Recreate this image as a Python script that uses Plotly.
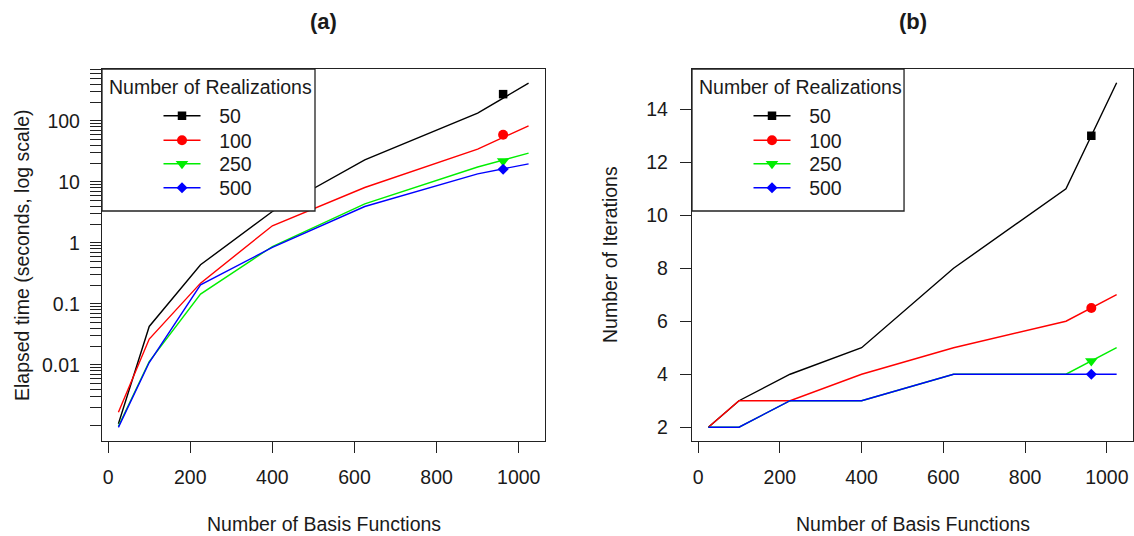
import plotly.graph_objects as go

# ---------------- data ----------------
basis = [25, 100, 225, 400, 625, 900, 1024]
series_names = ["50", "100", "250", "500"]

time_50 = [0.00108, 0.0425, 0.436, 3.26, 22.9, 134, 415]
time_100 = [0.00166, 0.0264, 0.218, 1.9, 8.07, 34.4, 83]
time_250 = [0.00098, 0.0113, 0.144, 0.87, 4.36, 17.5, 29.5]
time_500 = [0.00094, 0.0109, 0.205, 0.84, 3.94, 13.5, 19.7]

iter_50 = [2, 3, 4, 5, 8, 11, 15]
iter_100 = [2, 3, 3, 4, 5, 6, 7]
iter_250 = [2, 2, 3, 3, 4, 4, 5]
iter_500 = [2, 2, 3, 3, 4, 4, 4]

marker_basis = 962
time_marker = [274, 59, 22, 16.1]
iter_marker = [13, 6.5, 4.5, 4]

x_ticks = [0, 200, 400, 600, 800, 1000]
log_major = [0.01, 0.1, 1, 10, 100]
log_major_labels = ["0.01", "0.1", "1", "10", "100"]
iter_ticks = [2, 4, 6, 8, 10, 12, 14]
legend_title = "Number of Realizations"

# ---------------- style ----------------
colors = ["#000000", "#FF0000", "#00EE00", "#0000FF"]
symbols = ["square", "circle", "triangle-down", "diamond"]
msizes = [8.5, 10, 11, 8.5]
FONT = "Liberation Sans, Arial, Helvetica, sans-serif"
TXT = "#1a1a1a"
FS = 19.5

# minor log ticks (1..9 x 10^k), labels only at the decades 0.01..100
log_tickvals = []
log_ticktext = []
for k in range(-3, 3):
    for m in range(1, 10):
        v = m * 10 ** k
        if v > 700:
            continue
        v = float(f"{v:.6g}")
        log_tickvals.append(v)
        lab = ""
        for mv, ml in zip(log_major, log_major_labels):
            if abs(v - mv) / mv < 1e-9:
                lab = ml
        log_ticktext.append(lab)

time_series = [time_50, time_100, time_250, time_500]
iter_series = [iter_50, iter_100, iter_250, iter_500]

W, H = 1134, 536
ML, MR, MT, MB = 102, 1, 69, 95
pw = W - ML - MR
ph = H - MT - MB
dom_a = [0, (545 - ML) / pw]
dom_b = [(692 - ML) / pw, 1]


def px_y(ypix):
    return 1 - (ypix - MT) / ph


def px_x(xpix):
    return (xpix - ML) / pw


def legend_name(p, i):
    n = p * 4 + i + 1
    return "legend" if n == 1 else f"legend{n}"


fig = go.Figure()

panels = [
    (time_series, time_marker, "x", "y", 0),
    (iter_series, iter_marker, "x2", "y2", 590),
]
for p, (series, markers, xa, ya, dx) in enumerate(panels):
    for i, name in enumerate(series_names):
        fig.add_trace(go.Scatter(
            x=basis, y=series[i], mode="lines",
            line=dict(color=colors[i], width=1.4),
            xaxis=xa, yaxis=ya, showlegend=False, hoverinfo="skip",
        ))
    for i, name in enumerate(series_names):
        fig.add_trace(go.Scatter(
            x=[marker_basis], y=[markers[i]], mode="lines+markers",
            name="\u2002\u2009" + name,
            line=dict(color=colors[i], width=1.4),
            marker=dict(color=colors[i], symbol=symbols[i], size=msizes[i]),
            xaxis=xa, yaxis=ya, legend=legend_name(p, i), showlegend=True,
        ))

axis_common = dict(
    showline=True, mirror=True, linecolor="#222", linewidth=1.3,
    showgrid=False, zeroline=False, ticks="outside", ticklen=11,
    tickwidth=1.1, tickcolor="#222",
    tickfont=dict(family=FONT, size=FS, color=TXT),
)

fig.update_layout(
    width=W, height=H,
    margin=dict(l=ML, r=MR, t=MT, b=MB),
    paper_bgcolor="white", plot_bgcolor="white",
    font=dict(family=FONT, size=FS, color=TXT),
    xaxis=dict(domain=dom_a, range=[-15, 1064], tickvals=x_ticks,
               ticklabelstandoff=7, **axis_common),
    yaxis=dict(type="log", range=[-3.25, 2.85], tickvals=log_tickvals,
               ticktext=log_ticktext, ticklabelstandoff=6, **axis_common),
    xaxis2=dict(domain=dom_b, range=[-15, 1064], tickvals=x_ticks,
                ticklabelstandoff=7, anchor="y2", **axis_common),
    yaxis2=dict(range=[1.48, 15.52], tickvals=iter_ticks, anchor="x2",
                ticklabelstandoff=8, **axis_common),
)

# one legend per entry so the entry spacing matches the reference
entry_y = [116, 140.5, 164, 188]
legends = {}
for p, (_, _, _, _, dx) in enumerate(panels):
    for i in range(4):
        legends[legend_name(p, i)] = dict(
            x=px_x(158.5 + dx), y=px_y(entry_y[i]), xref="paper", yref="paper",
            xanchor="left", yanchor="middle",
            bgcolor="rgba(0,0,0,0)", borderwidth=0,
            font=dict(family=FONT, size=FS, color=TXT),
            itemwidth=37, tracegroupgap=0,
        )
fig.update_layout(legends)

# legend frame (white box above the data lines, like R's legend())
shapes = []
for xr, yr in [("x domain", "y domain"), ("x2 domain", "y2 domain")]:
    shapes.append(dict(
        type="rect", xref=xr, yref=yr, layer="above",
        x0=0, x1=(315 - 102) / (545 - 102), y0=1 - (211 - 69) / ph, y1=1,
        fillcolor="white", line=dict(color="#222", width=1.3),
    ))
fig.update_layout(shapes=shapes)

annotations = [
    dict(text="<b>(a)</b>", x=(dom_a[0] + dom_a[1]) / 2, y=px_y(21),
         font=dict(size=22)),
    dict(text="<b>(b)</b>", x=(dom_b[0] + dom_b[1]) / 2, y=px_y(21),
         font=dict(size=22)),
    dict(text="Number of Basis Functions", x=(dom_a[0] + dom_a[1]) / 2, y=px_y(524)),
    dict(text="Number of Basis Functions", x=(dom_b[0] + dom_b[1]) / 2, y=px_y(524)),
    dict(text="Elapsed time (seconds, log scale)", x=px_x(22), y=0.5, textangle=-90),
    dict(text="Number of Iterations", x=px_x(610), y=0.5, textangle=-90),
    dict(text=legend_title, x=px_x(107), y=px_y(87), xanchor="left"),
    dict(text=legend_title, x=px_x(107 + 590), y=px_y(87), xanchor="left"),
]
for a in annotations:
    a.setdefault("xanchor", "center")
    a.update(xref="paper", yref="paper", showarrow=False, yanchor="middle")
    f = dict(family=FONT, size=FS, color=TXT)
    f.update(a.get("font", {}))
    a["font"] = f
fig.update_layout(annotations=annotations)

fig.write_html(
    "out.html",
    config={"displayModeBar": False},
    post_script="document.body.style.margin='0px';document.body.style.padding='0px';",
)
